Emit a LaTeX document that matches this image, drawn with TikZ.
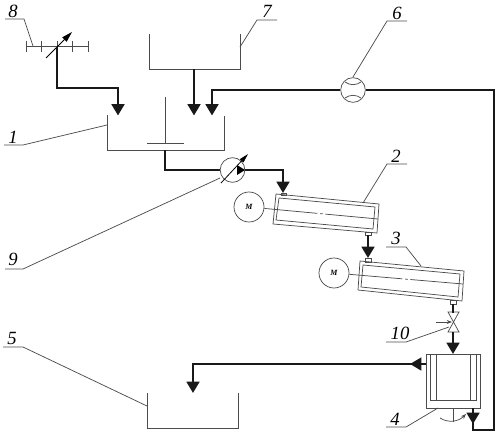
\documentclass[tikz,border=0pt]{standalone}
\usepackage{fontspec}
\setmainfont{Liberation Serif}
\usetikzlibrary{arrows.meta}
\tikzset{
  thin line/.style={line width=0.55pt,draw=black!70},
  flow/.style={line width=1.9pt,draw=black!90,-{Triangle[length=8.5pt,width=9.5pt]},line join=miter},
  flowplain/.style={line width=1.9pt,draw=black!90,line join=miter},
  num/.style={font=\fontsize{14}{14}\selectfont\itshape,inner sep=0pt},
  motor/.style={circle,draw=black!70,line width=0.55pt,minimum size=22.5pt,inner sep=0pt,font=\fontsize{6}{6}\selectfont\itshape\bfseries},
  device/.style={circle,draw=black!70,line width=0.55pt,minimum size=18.5pt,inner sep=0pt,fill=white},
  pt/.style={inner sep=0pt,minimum size=0pt}
}
\begin{document}
\begin{tikzpicture}[x=0.75pt,y=-0.75pt]
\useasboundingbox (0,0) rectangle (498,441);
% tanks
\draw[thin line] (149,34) -- (149,69) -- (240,69) -- (240,34);
\draw[thin line] (107,115) -- (107,150) -- (224,150) -- (224,116);
\draw[thin line] (147,393) -- (147,428) -- (238,428) -- (238,393);
% stirrer
\draw[thin line] (165,97) -- (165,143);
\draw[thin line] (147,143) -- (184,143);
% scale 8
\draw[thin line] (26,46) -- (88,46);
\foreach \x in {26,41,57,72,88}{\draw[thin line] (\x,41) -- (\x,52);}
\draw[line width=0.7pt,-{Triangle[length=8pt,width=4.5pt]}] (46,58) -- (72,32);
% nodes
\node[device] (p6) at (353,90) {};
\draw[thin line] (345,82) to[bend right=35] (361,82);
\draw[thin line] (345,98) to[bend left=35] (361,98);
\node[device] (p9) at (232.5,170) {};
\fill[black] (237,165) -- (245,170) -- (237,175) -- cycle;
\draw[line width=0.6pt,-{Triangle[length=7pt,width=3.5pt]}] (221,183) -- (248,154);
\node[motor] (m1) at (249,207) {M};
\node[motor] (m2) at (334,273) {M};
% cylinders
\draw[thin line] (276,194) -- (379,204) -- (377,233) -- (273,224) -- cycle;
\draw[thin line] (279,198) -- (375,207) -- (373,229) -- (276,220) -- cycle;
\draw[thin line] (360,261) -- (464,271) -- (462,301) -- (358,290) -- cycle;
\draw[thin line] (363,265) -- (460,274) -- (458,297) -- (361,287) -- cycle;
\draw[thin line,dash pattern=on 40pt off 2pt on 2pt off 2pt] (m1) -- (378,219);
\draw[thin line,dash pattern=on 40pt off 2pt on 2pt off 2pt] (m2) -- (463,284);
% stubs
\draw[thin line] (281,193) rectangle (286,195);
\draw[thin line] (365,232) rectangle (371,235);
\draw[thin line] (365,258) rectangle (371,262);
\draw[thin line] (450,300) rectangle (456,304);
% valve
\draw[thin line] (448,312) -- (459,312) -- (448,332) -- (459,332) -- cycle;
\draw[thin line,-{Stealth[length=4pt,width=3pt]}] (436,322) -- (452,322);
% tank 4
\draw[thin line] (426,354) rectangle (480,408);
\draw[thin line] (430,354) -- (430,400) -- (476,400) -- (476,354);
\draw[thin line] (436,354) -- (436,400);
\draw[thin line] (470,354) -- (470,400);
\draw[thin line] (453,408) -- (453,422);
\draw[thin line,-{Stealth[length=4pt,width=3pt]}] (440,418) .. controls (448,423) and (458,422) .. (466,414);
% flows
\coordinate (a8) at (57,47);
\draw[flow] (a8) -- (57,88) -- (118,88) -- (118,115.5);
\draw[flow] (194,69) -- (194,115.5);
\draw[flowplain] (p6.east) -- (494,90) -- (494,430) -- (473,430) -- (473,418);
\draw[flow] (473,408) -- (473,424);
\draw[flow] (p6.west) -- (212,90) -- (212,115.5);
\draw[flowplain] (165,150) -- (165,170) -- (p9.west);
\draw[flow] (p9.east) -- (283,170) -- (283,193);
\draw[flow] (368,235) -- (368,258);
\draw[flowplain] (453,304) -- (453,313);
\draw[flow] (453,332) -- (453,354);
\draw[flow] (426,364) -- (410,364);
\draw[flow] (412,364) -- (193,364) -- (193,393);
% leaders
\draw[thin line] (5,19) -- (24,19) -- (33,46);
\draw[thin line] (240,47) -- (257,20) -- (277,20);
\draw[thin line] (4,145) -- (23,145) -- (107,125);
\draw[thin line] (5,269) -- (23,269) -- (220,178);
\draw[thin line] (3,347) -- (23,347) -- (147,406);
\draw[thin line] (353,77) -- (387,21) -- (407,21);
\draw[thin line] (363,203) -- (387,164) -- (407,164);
\draw[thin line] (421,266) -- (406,247) -- (386,247);
\draw[thin line] (386,342) -- (406,342) -- (449,327);
\draw[thin line] (386,427) -- (406,427) -- (438,408);
% labels
\node[num] (n8) at (13,11) {8};
\node[num] (n7) at (267,11) {7};
\node[num] (n1) at (13,137) {1};
\node[num] (n9) at (13,259) {9};
\node[num] (n5) at (12,338) {5};
\node[num] (n6) at (397,13) {6};
\node[num] (n2) at (396,156) {2};
\node[num] (n3) at (396,238) {3};
\node[num] (n10) at (400,333) {10};
\node[num] (n4) at (395,419) {4};
\end{tikzpicture}
\end{document}
